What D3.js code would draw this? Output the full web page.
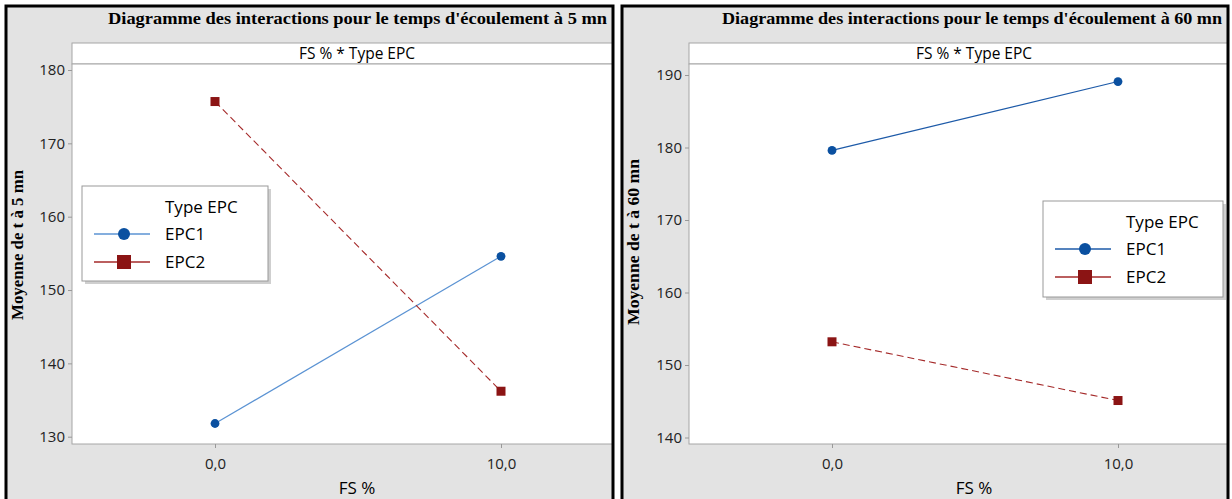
<!DOCTYPE html>
<meta charset="utf-8">
<style>
  body { margin: 0; background: #fff; }
  .tick text { font-family: "Open Sans", "Noto Sans", sans-serif; font-size: 15px; fill: #222; }
  .title { font-family: "Liberation Serif", "Times New Roman", serif; font-weight: bold; font-size: 16px; }
</style>
<svg width="1232" height="499"></svg>
<script src="https://cdn.jsdelivr.net/npm/d3@7"></script>
<script>

// values
var fsLevels = [0, 10];
var fsLabels = ["0,0", "10,0"];
var epc1At5 = [131.8, 154.6];
var epc2At5 = [175.7, 136.2];
var epc1At60 = [179.6, 189.1];
var epc2At60 = [153.2, 145.1];
var yTicks5 = [130, 140, 150, 160, 170, 180];
var yTicks60 = [140, 150, 160, 170, 180, 190];
var seriesNames = ["EPC1", "EPC2"];

var svg = d3.select("svg");

var panels = [
  { x0: 6, x1: 613, plotL: 72, title: "Diagramme des interactions pour le temps d'écoulement  à 5 mn",
    titleW: 499, ylab: "Moyenne de t à 5 mn", ylabW: 150, ylabY: 245,
    ydom: [130, 180], yr: [436.7, 70], ticks: yTicks5,
    s1: epc1At5, s2: epc2At5, line1: "#5b93d3", leg: [82, 186, 186, 95] },
  { x0: 622, x1: 1228, plotL: 689, title: "Diagramme des interactions pour le temps d'écoulement à 60 mn",
    titleW: 500, ylab: "Moyenne de t à 60 mn", ylabW: 166, ylabY: 242,
    ydom: [140, 190], yr: [437.5, 75], ticks: yTicks60,
    s1: epc1At60, s2: epc2At60, line1: "#1d5aa8", leg: [1043, 201, 180, 96] }
];

panels.forEach(function(p, i) {
  var g = svg.append("g");
  var clipId = "clip" + i;
  svg.append("clipPath").attr("id", clipId)
    .append("rect").attr("x", p.x0).attr("y", 6).attr("width", p.x1 - p.x0).attr("height", 499);

  g.append("rect").attr("x", p.x0).attr("y", 6).attr("width", p.x1 - p.x0).attr("height", 499)
    .attr("fill", "#e3e3e3");

  var inner = g.append("g").attr("clip-path", "url(#" + clipId + ")");

  // header strip
  inner.append("rect").attr("x", p.plotL).attr("y", 43).attr("width", p.x1 - p.plotL + 10).attr("height", 21)
    .attr("fill", "#fff").attr("stroke", "#a6a6a6");
  inner.append("text").attr("x", p.plotL + 285).attr("y", 59).attr("text-anchor", "middle")
    .style("font-family", "'Open Sans', sans-serif").style("font-size", "15.5px")
    .text("FS % * Type EPC");

  // plot area
  inner.append("rect").attr("x", p.plotL).attr("y", 64).attr("width", p.x1 - p.plotL + 10).attr("height", 380)
    .attr("fill", "#fff").attr("stroke", "#a6a6a6");

  var x = d3.scaleLinear().domain([-5, 15]).range([p.plotL, p.plotL + 20 * 28.6]);
  var y = d3.scaleLinear().domain(p.ydom).range(p.yr);

  var yAxis = inner.append("g").attr("transform", "translate(" + p.plotL + ",0)")
    .call(d3.axisLeft(y).tickValues(p.ticks).tickSize(4).tickPadding(3));
  yAxis.select(".domain").remove();
  yAxis.selectAll(".tick line").attr("stroke", "#999");

  var xAxis = inner.append("g").attr("transform", "translate(0,444)")
    .call(d3.axisBottom(x).tickValues(fsLevels).tickFormat(function(d, k) { return fsLabels[k]; })
      .tickSize(4).tickPadding(10));
  xAxis.select(".domain").remove();
  xAxis.selectAll(".tick line").attr("stroke", "#999");

  inner.append("text").attr("x", p.plotL + 285).attr("y", 494).attr("text-anchor", "middle")
    .style("font-family", "'Open Sans', sans-serif").style("font-size", "17px").text("FS %");

  inner.append("text").attr("class", "title").attr("x", p.x1 - 6).attr("y", 24)
    .attr("text-anchor", "end").attr("textLength", p.titleW).attr("lengthAdjust", "spacingAndGlyphs")
    .text(p.title);

  inner.append("text").attr("class", "title")
    .attr("transform", "translate(" + (p.x0 + 17) + "," + p.ylabY + ") rotate(-90)")
    .attr("text-anchor", "middle").attr("textLength", p.ylabW).attr("lengthAdjust", "spacingAndGlyphs")
    .text(p.ylab);

  var line = d3.line().x(function(d, k) { return x(fsLevels[k]); }).y(function(d) { return y(d); });

  inner.append("path").datum(p.s1).attr("d", line).attr("fill", "none")
    .attr("stroke", p.line1).attr("stroke-width", 1.2);
  inner.append("path").datum(p.s2).attr("d", line).attr("fill", "none")
    .attr("stroke", "#a52a2a").attr("stroke-width", 1.1).attr("stroke-dasharray", "7,4");

  inner.selectAll(".c").data(p.s1).enter().append("circle")
    .attr("cx", function(d, k) { return x(fsLevels[k]); }).attr("cy", function(d) { return y(d); })
    .attr("r", 4.4).attr("fill", "#0a50a0");
  inner.selectAll(".s").data(p.s2).enter().append("rect")
    .attr("x", function(d, k) { return x(fsLevels[k]) - 4.5; }).attr("y", function(d) { return y(d) - 4.5; })
    .attr("width", 9).attr("height", 9).attr("fill", "#8b1414");

  // legend
  var L = p.leg;
  var lg = inner.append("g").attr("transform", "translate(" + L[0] + "," + L[1] + ")");
  lg.append("rect").attr("x", 3).attr("y", 3).attr("width", L[2]).attr("height", L[3]).attr("fill", "#cfcfcf");
  lg.append("rect").attr("width", L[2]).attr("height", L[3]).attr("fill", "#fff").attr("stroke", "#999");
  lg.append("text").attr("x", 83).attr("y", 27).style("font-family", "'Open Sans', sans-serif")
    .style("font-size", "17px").text("Type EPC");
  seriesNames.forEach(function(n, k) {
    var yy = 48 + k * 28;
    lg.append("line").attr("x1", 12).attr("x2", 68).attr("y1", yy).attr("y2", yy)
      .attr("stroke", k === 0 ? p.line1 : "#a52a2a").attr("stroke-width", 1.3);
    if (k === 0) lg.append("circle").attr("cx", 42).attr("cy", yy).attr("r", 6).attr("fill", "#0a50a0");
    else lg.append("rect").attr("x", 35).attr("y", yy - 7).attr("width", 14).attr("height", 14).attr("fill", "#8b1414");
    lg.append("text").attr("x", 83).attr("y", yy + 6).style("font-family", "'Open Sans', sans-serif")
      .style("font-size", "17px").text(n);
  });

  // black panel frame (no bottom edge visible)
  g.append("path")
    .attr("d", "M" + p.x0 + ",499V6H" + p.x1 + "V499")
    .attr("fill", "none").attr("stroke", "#000").attr("stroke-width", 3);
});
</script>
